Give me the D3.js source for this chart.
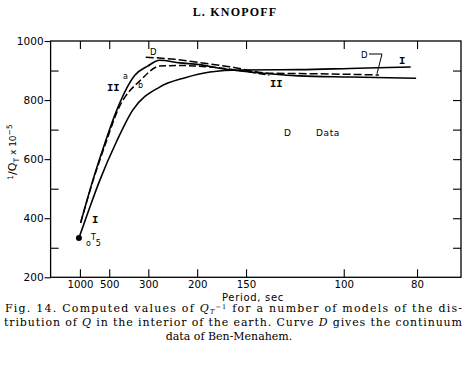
<!DOCTYPE html>
<html>
<head>
<meta charset="utf-8">
<script src="https://cdn.jsdelivr.net/npm/d3@7"></script>
<style>
  html, body { margin: 0; padding: 0; background: #fff; }
  svg { display: block; }
</style>
</head>
<body>
<svg id="chart" width="470" height="365"></svg>
<script>
// ---- data (period in sec, value of 1/Q_T x 10^-5) ----
const periodTicks = [1000, 500, 300, 200, 150, 100, 80];
const valueTicks = [200, 400, 600, 800, 1000];
const minorValueTicks = [300, 500, 700, 900];
const rightValueTicks = [300, 400, 500, 600, 700, 800, 900];

const curveIPeriods = [1035, 746, 595, 446, 357, 269, 219, 184, 155, 118, 98, 81.4];
const curveIValues  = [333, 438, 529, 658, 766, 844, 875, 895, 902, 903, 907, 912];

const curveIIaPeriods = [977, 693, 540, 443, 348, 302, 269, 227, 197, 174, 147, 118, 98, 80.2];
const curveIIaValues  = [384, 529, 654, 766, 884, 915, 935, 926, 920, 908, 895, 882, 878, 874];

const curveIIbPeriods = [975, 688, 534, 436, 322, 269, 227, 184, 147, 134];
const curveIIbValues  = [385, 529, 652, 766, 871, 915, 917, 912, 895, 884];

const curveDPeriods = [308, 236, 197, 164, 134, 109, 89.3];
const curveDValues  = [945, 938, 927, 913, 891, 889, 885];

const pointT5 = { period: 1035, value: 333 };

// ---- scales ----
const svg = d3.select("#chart");
const x = d3.scaleLinear().domain([0, 14]).range([50.6, 461]); // frequency, mHz
const y = d3.scaleLinear().domain([200, 1000]).range([277.3, 41]);
const xp = T => x(1000 / T);

const sans = "'DejaVu Sans', sans-serif";
const serif = "'DejaVu Serif', serif";

// title
svg.append("text").attr("x", 235).attr("y", 15.5)
  .attr("text-anchor", "middle")
  .attr("font-family", "'Liberation Serif', serif").attr("font-weight", "bold")
  .attr("font-size", 12).attr("letter-spacing", 1.2)
  .text("L. KNOPOFF");

// frame
svg.append("rect")
  .attr("x", x(0)).attr("y", y(1000))
  .attr("width", x(14) - x(0)).attr("height", y(200) - y(1000))
  .attr("fill", "none").attr("stroke", "#000").attr("stroke-width", 1.3);

const tickStyle = g => {
  g.select(".domain").remove();
  g.selectAll("line").attr("stroke", "#000").attr("stroke-width", 1.1);
};

// bottom
svg.append("g").attr("transform", `translate(0,${y(200)})`)
  .call(d3.axisBottom(x).tickValues(periodTicks.map(T => 1000 / T))
    .tickSize(-8).tickPadding(3).tickFormat((d, i) => periodTicks[i]))
  .call(tickStyle)
  .call(g => g.selectAll("text").attr("font-family", sans).attr("font-size", 10.2).attr("fill", "#000"));

// top
svg.append("g").attr("transform", `translate(0,${y(1000)})`)
  .call(d3.axisTop(x).tickValues(periodTicks.map(T => 1000 / T)).tickSize(-8).tickFormat(""))
  .call(tickStyle);

// left major (outward) with labels
svg.append("g").attr("transform", `translate(${x(0)},0)`)
  .call(d3.axisLeft(y).tickValues(valueTicks).tickSize(6).tickPadding(1).tickFormat(d3.format("d")))
  .call(tickStyle)
  .call(g => g.selectAll("text").attr("font-family", sans).attr("font-size", 10.5).attr("fill", "#000"));

// left minor (inward)
svg.append("g").attr("transform", `translate(${x(0)},0)`)
  .call(d3.axisLeft(y).tickValues(minorValueTicks).tickSize(-8).tickFormat(""))
  .call(tickStyle);

// right (inward)
svg.append("g").attr("transform", `translate(${x(14)},0)`)
  .call(d3.axisRight(y).tickValues(rightValueTicks).tickSize(-8).tickFormat(""))
  .call(tickStyle);

// x axis title
svg.append("text").attr("x", 253).attr("y", 300.5)
  .attr("text-anchor", "middle").attr("font-family", sans).attr("font-size", 10)
  .attr("letter-spacing", 0.7)
  .text("Period, sec");

// y axis title
const yt = svg.append("text")
  .attr("transform", "translate(16,152) rotate(-90)")
  .attr("text-anchor", "middle").attr("font-family", sans).attr("font-size", 11);
yt.append("tspan").attr("font-size", 7.5).attr("dy", -3).text("1");
yt.append("tspan").attr("dy", 3).text("/Q");
yt.append("tspan").attr("font-size", 7.5).attr("dy", 3).text("T");
yt.append("tspan").attr("dy", -3).attr("font-size", 9).text(" x 10");
yt.append("tspan").attr("font-size", 7.5).attr("dy", -4).text("−5");

// curves
const line = d3.line().x(d => xp(d[0])).y(d => y(d[1])).curve(d3.curveMonotoneX);
const zip = (a, b) => a.map((v, i) => [v, b[i]]);

const curves = [
  { p: curveIPeriods, v: curveIValues, dash: null, w: 1.6 },
  { p: curveIIaPeriods, v: curveIIaValues, dash: null, w: 1.6 },
  { p: curveIIbPeriods, v: curveIIbValues, dash: "7,3", w: 1.5 },
  { p: curveDPeriods, v: curveDValues, dash: "8,3", w: 1.5 }
];
curves.forEach(c => {
  svg.append("path").datum(zip(c.p, c.v))
    .attr("d", line).attr("fill", "none").attr("stroke", "#000")
    .attr("stroke-width", c.w).attr("stroke-dasharray", c.dash);
});

// data point 0T5
svg.append("circle").attr("cx", xp(pointT5.period)).attr("cy", y(pointT5.value))
  .attr("r", 3).attr("fill", "#000");

// in-plot labels
const lab = (t, px, py, fam, fs) => svg.append("text").attr("x", px).attr("y", py)
  .attr("font-family", fam).attr("font-size", fs).attr("fill", "#000").text(t);
const mono = "'Liberation Mono', monospace";
lab("II", 107, 91, mono, 10.5).attr("font-weight", "bold");
lab("a", 123, 79, sans, 8);
lab("b", 138, 88, sans, 8);
lab("I", 92, 223, mono, 10.5).attr("font-weight", "bold");
lab("II", 270, 87, mono, 10.5).attr("font-weight", "bold");
lab("I", 399, 64, mono, 10.5).attr("font-weight", "bold");
lab("D", 150, 55, sans, 8.5);
lab("D", 361, 58, sans, 8.5);
lab("D", 284, 136, sans, 9);
lab("Data", 316, 136, sans, 9).attr("letter-spacing", 0.6);

// 0T5 label
const t5 = svg.append("text").attr("x", 86).attr("y", 246)
  .attr("font-family", sans).attr("font-size", 8);
t5.append("tspan").text("o");
t5.append("tspan").attr("dy", -6).text("T");
t5.append("tspan").attr("dy", 6).text("5");

// leader for right D
svg.append("path")
  .attr("d", `M${369},${54} L${382},${54} L${377},${y(886) - 1}`)
  .attr("fill", "none").attr("stroke", "#000").attr("stroke-width", 1);

// caption
const cap1 = svg.append("text").attr("x", 5).attr("y", 312)
  .attr("font-family", serif).attr("font-size", 11)
  .attr("textLength", 457).attr("lengthAdjust", "spacing");
cap1.append("tspan").text("Fig. 14.  Computed values of ");
cap1.append("tspan").attr("font-style", "italic").text("Q");
cap1.append("tspan").attr("font-style", "italic").attr("font-size", 6.5).attr("dy", 2).text("T");
cap1.append("tspan").attr("font-size", 6.5).attr("dy", -5.5).text("−1");
cap1.append("tspan").attr("dy", 3.5).text(" for a number of models of the dis-");

const cap2 = svg.append("text").attr("x", 4).attr("y", 326)
  .attr("font-family", serif).attr("font-size", 11)
  .attr("textLength", 458).attr("lengthAdjust", "spacing");
cap2.append("tspan").text("tribution of ");
cap2.append("tspan").attr("font-style", "italic").text("Q");
cap2.append("tspan").text(" in the interior of the earth. Curve ");
cap2.append("tspan").attr("font-style", "italic").text("D");
cap2.append("tspan").text(" gives the continuum");

svg.append("text").attr("x", 229).attr("y", 340)
  .attr("text-anchor", "middle").attr("font-family", serif).attr("font-size", 11)
  .text("data of Ben-Menahem.");
</script>
</body>
</html>
